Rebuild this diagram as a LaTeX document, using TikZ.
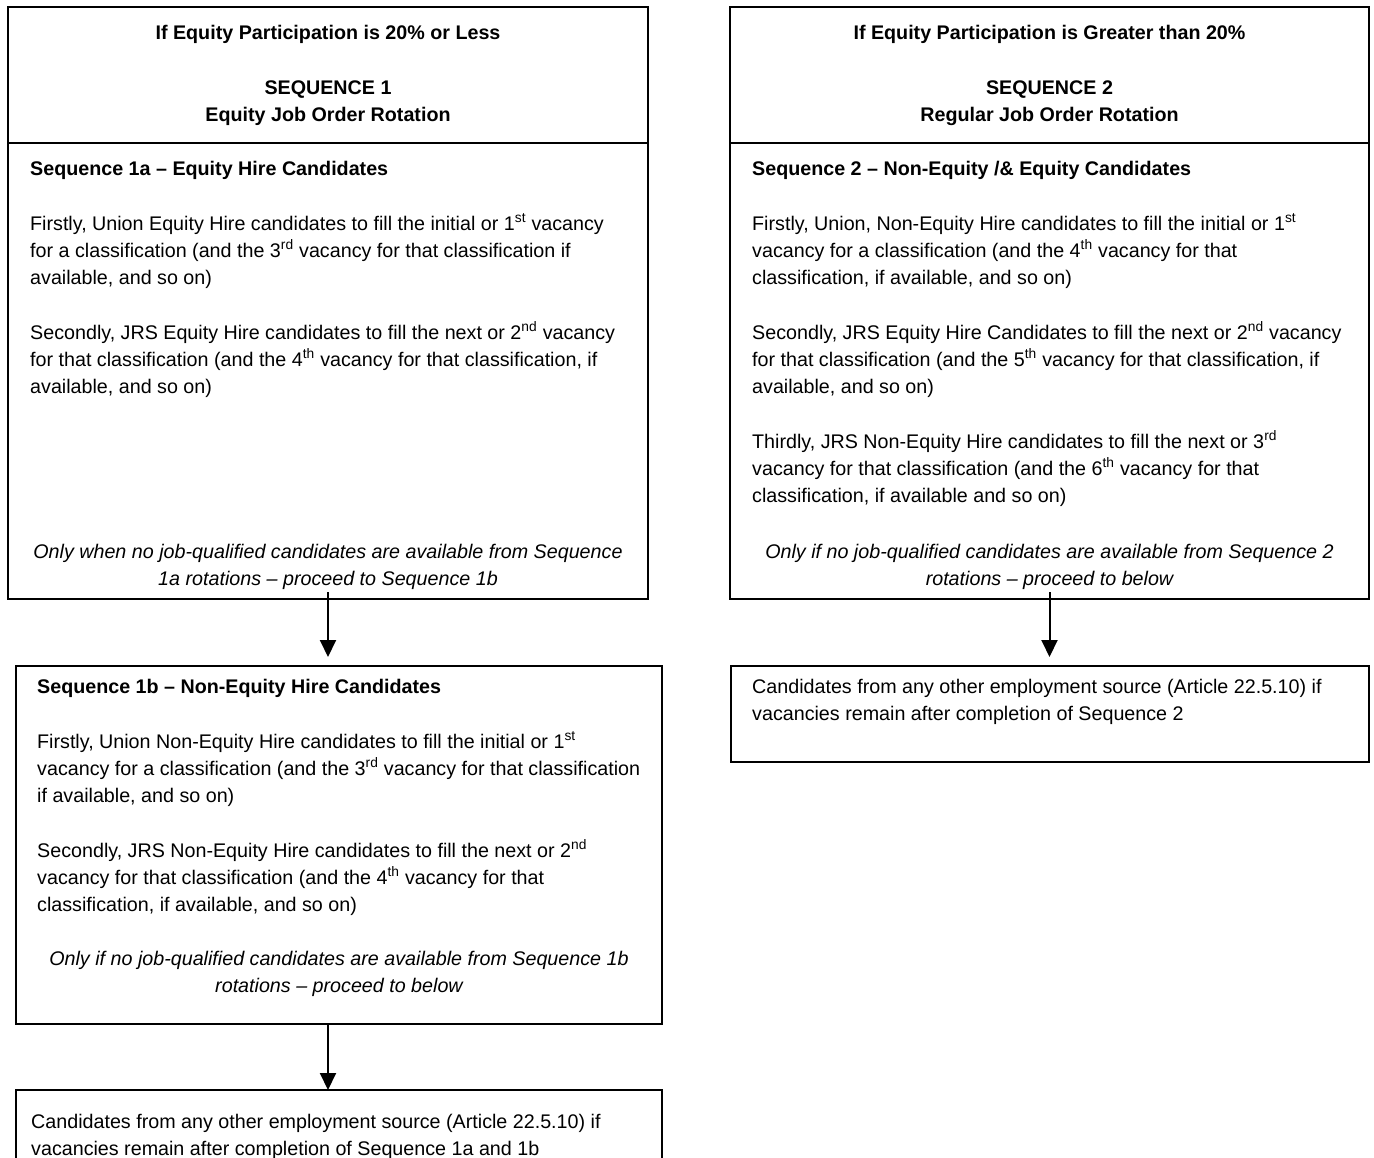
\documentclass[tikz,border=0pt]{standalone}
\usepackage{fontspec}
\setmainfont{Liberation Sans}
\usetikzlibrary{positioning,arrows.meta}

\newcommand{\bodyfont}{\fontsize{19.7pt}{27pt}\selectfont}
\newcommand{\ord}[1]{\textsuperscript{#1}}

\tikzset{
    box/.style={rectangle, draw=black, line width=1.9pt, inner sep=0pt, outer sep=0pt},
    hdr/.style={box, font=\bodyfont\bfseries, align=center},
    txt/.style={inner sep=0pt, align=left, font=\bodyfont},
    note/.style={inner sep=0pt, align=center, font=\bodyfont\itshape},
    arr/.style={-{Triangle[length=17pt,width=16pt]}, line width=2pt}
}

\begin{document}
\begin{tikzpicture}[x=1pt, y=1pt]
    \clip (0,0) rectangle (1374,-1158);
    % left column
    \node[hdr, anchor=north west, minimum width=640pt, minimum height=136pt] (hdrA) at (8,-7)
        {If Equity Participation is 20\% or Less\\[28pt] SEQUENCE 1\\ Equity Job Order Rotation};
    \node[box, below=0pt of hdrA, minimum width=640pt, minimum height=456pt] (seqA) {};
    \node[txt, below right=18pt and 22pt of seqA.north west] (seqAtext)
        {\textbf{Sequence 1a – Equity Hire Candidates}\\[28pt]
        Firstly, Union Equity Hire candidates to fill the initial or 1\ord{st} vacancy\\
        for a classification (and the 3\ord{rd} vacancy for that classification if\\
        available, and so on)\\[28pt]
        Secondly, JRS Equity Hire candidates to fill the next or 2\ord{nd} vacancy\\
        for that classification (and the 4\ord{th} vacancy for that classification, if\\
        available, and so on)};
    \node[note, above=9pt of seqA.south] (seqAnote)
        {Only when no job-qualified candidates are available from Sequence\\
        1a rotations – proceed to Sequence 1b};

    \node[box, anchor=north west, minimum width=646pt, minimum height=358pt] (seqC) at (16,-666) {};
    \node[txt, below right=13pt and 21pt of seqC.north west] (seqCtext)
        {\textbf{Sequence 1b – Non-Equity Hire Candidates}\\[28pt]
        Firstly, Union Non-Equity Hire candidates to fill the initial or 1\ord{st}\\
        vacancy for a classification (and the 3\ord{rd} vacancy for that classification\\
        if available, and so on)\\[28pt]
        Secondly, JRS Non-Equity Hire candidates to fill the next or 2\ord{nd}\\
        vacancy for that classification (and the 4\ord{th} vacancy for that\\
        classification, if available, and so on)};
    \node[note, below=285pt of seqC.north] (seqCnote)
        {Only if no job-qualified candidates are available from Sequence 1b\\
        rotations – proceed to below};

    \node[box, anchor=north west, minimum width=646pt, minimum height=100pt] (otherA) at (16,-1090) {};
    \node[txt, below right=24pt and 15pt of otherA.north west] (otherAtext)
        {Candidates from any other employment source (Article 22.5.10) if\\
        vacancies remain after completion of Sequence 1a and 1b};

    % right column
    \node[hdr, anchor=north west, minimum width=639pt, minimum height=136pt] (hdrB) at (730,-7)
        {If Equity Participation is Greater than 20\%\\[28pt] SEQUENCE 2\\ Regular Job Order Rotation};
    \node[box, below=0pt of hdrB, minimum width=639pt, minimum height=456pt] (seqB) {};
    \node[txt, below right=18pt and 22pt of seqB.north west] (seqBtext)
        {\textbf{Sequence 2 – Non-Equity /\& Equity Candidates}\\[28pt]
        Firstly, Union, Non-Equity Hire candidates to fill the initial or 1\ord{st}\\
        vacancy for a classification (and the 4\ord{th} vacancy for that\\
        classification, if available, and so on)\\[28pt]
        Secondly, JRS Equity Hire Candidates to fill the next or 2\ord{nd} vacancy\\
        for that classification (and the 5\ord{th} vacancy for that classification, if\\
        available, and so on)\\[28pt]
        Thirdly, JRS Non-Equity Hire candidates to fill the next or 3\ord{rd}\\
        vacancy for that classification (and the 6\ord{th} vacancy for that\\
        classification, if available and so on)};
    \node[note, above=9pt of seqB.south] (seqBnote)
        {Only if no job-qualified candidates are available from Sequence 2\\
        rotations – proceed to below};

    \node[box, anchor=north west, minimum width=638pt, minimum height=96pt] (otherB) at (731,-666) {};
    \node[txt, below right=13pt and 21pt of otherB.north west] (otherBtext)
        {Candidates from any other employment source (Article 22.5.10) if\\
        vacancies remain after completion of Sequence 2};

    % arrows
    \draw[arr, shorten >=9pt] ([yshift=7pt]seqA.south) -- (seqA.south |- seqC.north);
    \draw[arr] (seqA.south |- seqC.south) -- (seqA.south |- otherA.north);
    \draw[arr, shorten >=9pt] ([yshift=7pt]seqB.south) -- (seqB.south |- otherB.north);
\end{tikzpicture}
\end{document}
